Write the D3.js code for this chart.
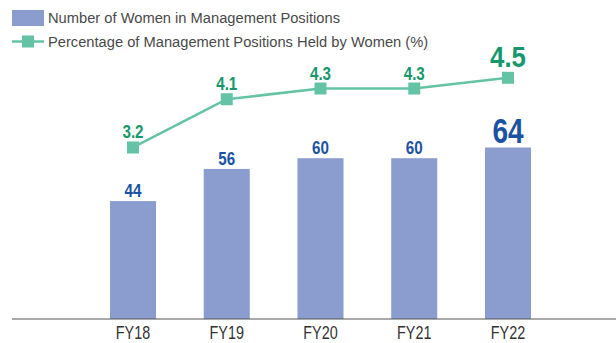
<!DOCTYPE html>
<html>
<head>
<meta charset="utf-8">
<script src="https://cdn.jsdelivr.net/npm/d3@7"></script>
<style>
  html, body { margin: 0; padding: 0; background: #fff; }
  svg { display: block; }
</style>
</head>
<body>
<svg id="chart" width="616" height="343"></svg>
<script>
// Fiscal years and the two series plotted against them
const categories = ["FY18", "FY19", "FY20", "FY21", "FY22"];
const womenCount = [44, 56, 60, 60, 64];
const womenShare = [3.2, 4.1, 4.3, 4.3, 4.5];
const legendLabels = [
  "Number of Women in Management Positions",
  "Percentage of Management Positions Held by Women (%)"
];

const W = 616, H = 343;
const baseY = 319;
const barColor = "#8b9dcf";
const lineColor = "#64c3a4";
const blueText = "#1b53a3";
const greenText = "#16986c";
const sans = "'Liberation Sans', Arial, Helvetica, sans-serif";
const squeeze = 0.8; // horizontal compression for the narrow labels

const svg = d3.select("#chart");

const x = d3.scaleBand()
  .domain(categories)
  .range([86.125, 554.875])
  .paddingInner(0.509)
  .paddingOuter(0.2545);

const yCount = d3.scaleLinear().domain([0, 100]).range([baseY, 51]);
const yShare = d3.scaleLinear().domain([0, 5]).range([baseY, 51]);

const last = categories.length - 1;
const cx = (d, i) => x(categories[i]) + x.bandwidth() / 2;

// Bars
svg.append("g").selectAll("rect")
  .data(womenCount)
  .join("rect")
  .attr("x", (d, i) => x(categories[i]))
  .attr("y", d => yCount(d))
  .attr("width", x.bandwidth())
  .attr("height", d => baseY - yCount(d))
  .attr("fill", barColor);

// Bar value labels (the latest year is emphasised)
svg.append("g").selectAll("text")
  .data(womenCount)
  .join("text")
  .attr("transform", (d, i) => `translate(${cx(d, i)},${yCount(d) - 4}) scale(${squeeze},1)`)
  .attr("text-anchor", "middle")
  .attr("font-family", sans)
  .attr("font-weight", "bold")
  .attr("font-size", (d, i) => i === last ? 35 : 19)
  .attr("fill", blueText)
  .text(d => d);

// Axis baseline and category labels
const xAxis = svg.append("g")
  .attr("transform", `translate(0,${baseY})`)
  .call(d3.axisBottom(x).tickSize(0).tickPadding(0));
xAxis.select(".domain").remove();
xAxis.append("line")
  .attr("x1", 12).attr("x2", W)
  .attr("stroke", "#555").attr("stroke-width", 1.2);
xAxis.selectAll(".tick text")
  .attr("y", 0)
  .attr("dy", null)
  .attr("transform", `translate(0,19.5) scale(${squeeze},1)`)
  .attr("font-family", sans)
  .attr("font-size", 18)
  .attr("fill", "#333");

// Percentage line with square markers
svg.append("path")
  .datum(womenShare)
  .attr("fill", "none")
  .attr("stroke", lineColor)
  .attr("stroke-width", 2.5)
  .attr("d", d3.line().x(cx).y(d => yShare(d)));

const m = 12;
svg.append("g").selectAll("rect")
  .data(womenShare)
  .join("rect")
  .attr("x", (d, i) => cx(d, i) - m / 2)
  .attr("y", d => yShare(d) - m / 2)
  .attr("width", m)
  .attr("height", m)
  .attr("fill", lineColor);

svg.append("g").selectAll("text")
  .data(womenShare)
  .join("text")
  .attr("transform", (d, i) => `translate(${cx(d, i)},${yShare(d) - (i === last ? 11 : 9)}) scale(${i === last ? 0.86 : squeeze},1)`)
  .attr("text-anchor", "middle")
  .attr("font-family", sans)
  .attr("font-weight", "bold")
  .attr("font-size", (d, i) => i === last ? 30 : 19)
  .attr("fill", greenText)
  .text(d => d.toFixed(1));

// Legend
const legend = svg.append("g");
legend.append("rect")
  .attr("x", 12).attr("y", 10).attr("width", 32).attr("height", 16)
  .attr("fill", barColor);
legend.append("line")
  .attr("x1", 12).attr("x2", 44).attr("y1", 41.5).attr("y2", 41.5)
  .attr("stroke", lineColor).attr("stroke-width", 2.5);
legend.append("rect")
  .attr("x", 22).attr("y", 35.5).attr("width", 12).attr("height", 12)
  .attr("fill", lineColor);
legend.selectAll("text.lg")
  .data(legendLabels)
  .join("text")
  .attr("class", "lg")
  .attr("x", 48)
  .attr("y", (d, i) => 18 + i * 24)
  .attr("dy", "0.35em")
  .attr("font-family", sans)
  .attr("font-size", 14.7)
  .attr("fill", "#4a4a4a")
  .text(d => d);
</script>
</body>
</html>
